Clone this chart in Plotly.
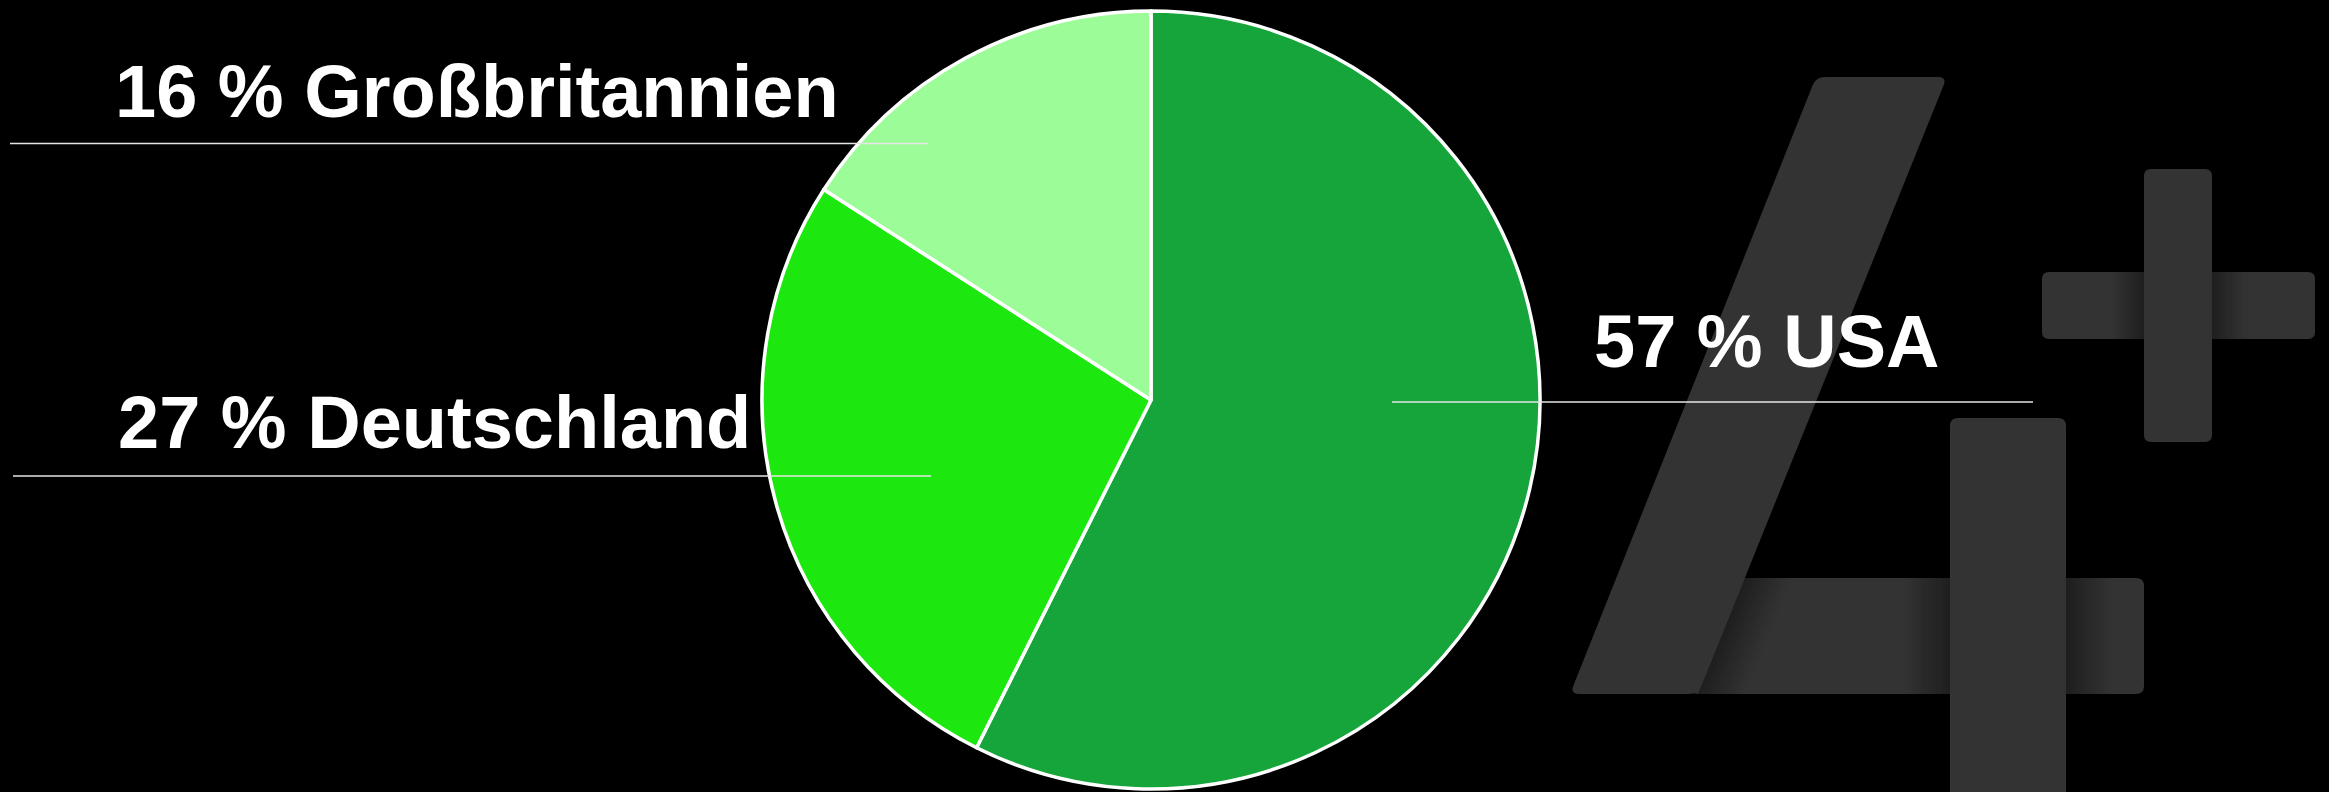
import plotly.graph_objects as go

W, H = 2329, 792

# ---- data ----
labels = ["USA", "Deutschland", "Großbritannien"]
values = [57.4, 26.7, 15.9]
label_texts = ["57 % USA", "27 % Deutschland", "16 % Großbritannien"]
colors = ["#15a53a", "#1ce80f", "#9cfc98"]

# ---- helpers (pixel -> paper) ----
def px(x):
    return x / W

def py(y):
    return (H - y) / H

def rounded_path(pts, r):
    n = len(pts)
    segs = []
    for i in range(n):
        p0 = pts[i - 1]
        p1 = pts[i]
        p2 = pts[(i + 1) % n]
        def towards(a, b, d):
            dx, dy = b[0] - a[0], b[1] - a[1]
            L = (dx * dx + dy * dy) ** 0.5
            d = min(d, L / 2)
            return (a[0] + dx / L * d, a[1] + dy / L * d)
        a = towards(p1, p0, r)
        b = towards(p1, p2, r)
        segs.append((a, p1, b))
    path = ""
    for i, (a, c, b) in enumerate(segs):
        cmd = "M" if i == 0 else "L"
        path += f"{cmd}{px(a[0]):.6f},{py(a[1]):.6f} Q{px(c[0]):.6f},{py(c[1]):.6f} {px(b[0]):.6f},{py(b[1]):.6f} "
    return path + "Z"

def poly_path(pts):
    s = ""
    for i, p in enumerate(pts):
        s += ("M" if i == 0 else "L") + f"{px(p[0]):.6f},{py(p[1]):.6f} "
    return s + "Z"

BAR = "#333333"
DARK = (30, 30, 30)
LIGHT = (51, 51, 51)

def mix(t):
    c = [round(DARK[k] + (LIGHT[k] - DARK[k]) * t) for k in range(3)]
    return f"rgb({c[0]},{c[1]},{c[2]})"

shapes = []

def add_path(path, color):
    shapes.append(dict(type="path", path=path, xref="paper", yref="paper",
                       fillcolor=color, line=dict(width=0), layer="below"))

def hgrad(x0, x1, y0, y1, dark_left, n=16):
    step = (x1 - x0) / n
    for i in range(n):
        xa = x0 + i * step
        xb = xa + step + 0.6
        t = (i + 0.5) / n
        t = t if dark_left else 1 - t
        add_path(poly_path([(xa, y0), (xb, y0), (xb, y1), (xa, y1)]), mix(t))

# bottom horizontal bar of the "4"
add_path(rounded_path([(1690, 578), (2144, 578), (2144, 694), (1690, 694)], 8), BAR)
# slanted shadow next to diagonal
def ex(y):
    return 1947 - (y - 77) * 249 / 617
n = 16
for i in range(n):
    d0 = i * 46 / n
    d1 = d0 + 46 / n + 0.6
    t = (i + 0.5) / n
    add_path(poly_path([(ex(578) + d0, 578), (ex(578) + d1, 578),
                        (ex(694) + d1, 694), (ex(694) + d0, 694)]), mix(t))
hgrad(1904, 1951, 578, 694, dark_left=False)
hgrad(2066, 2112, 578, 694, dark_left=True)

# diagonal stroke of the "4"
add_path(rounded_path([(1816, 77), (1947, 77), (1698, 694), (1570, 694)], 9), BAR)
# vertical stroke of the "4"
add_path(rounded_path([(1950, 418), (2066, 418), (2066, 830), (1950, 830)], 8), BAR)

# plus sign
add_path(rounded_path([(2042, 272), (2315, 272), (2315, 339), (2042, 339)], 7), BAR)
hgrad(2112, 2145, 272, 339, dark_left=False, n=12)
hgrad(2211, 2247, 272, 339, dark_left=True, n=12)
add_path(rounded_path([(2144, 169), (2212, 169), (2212, 442), (2144, 442)], 7), BAR)

# leader lines
line_specs = [(10, 928, 143.5), (13, 931, 476), (1392, 2033, 402)]
for x0, x1, y in line_specs:
    shapes.append(dict(type="line", xref="paper", yref="paper",
                       x0=px(x0), x1=px(x1), y0=py(y), y1=py(y),
                       line=dict(color="#e6e6e6", width=1.3), layer="above"))

cx, cy, R = 1151, 400, 389

fig = go.Figure()
fig.add_trace(go.Pie(
    labels=labels, values=values, sort=False, direction="clockwise", rotation=0,
    marker=dict(colors=colors, line=dict(color="white", width=3.5)),
    textinfo="none", showlegend=False, hole=0,
    domain=dict(x=[px(cx - R), px(cx + R)], y=[py(cy + R), py(cy - R)]),
))

ann_pos = [(1592, 342), (116, 422), (113, 91)]
annotations = []
for txt, (x, y) in zip(label_texts, ann_pos):
    annotations.append(dict(text=txt, x=px(x), y=py(y), xref="paper", yref="paper",
                            xanchor="left", yanchor="middle", showarrow=False,
                            font=dict(family="Liberation Sans, Arial, sans-serif",
                                      size=74, color="white", weight="bold")))

fig.update_layout(
    width=W, height=H, margin=dict(l=0, r=0, t=0, b=0),
    paper_bgcolor="black", plot_bgcolor="black",
    shapes=shapes, annotations=annotations,
)

fig.write_html("out.html", config={"displayModeBar": False},
               post_script="document.body.style.margin='0';document.body.style.overflow='hidden';document.body.style.background='black';")
